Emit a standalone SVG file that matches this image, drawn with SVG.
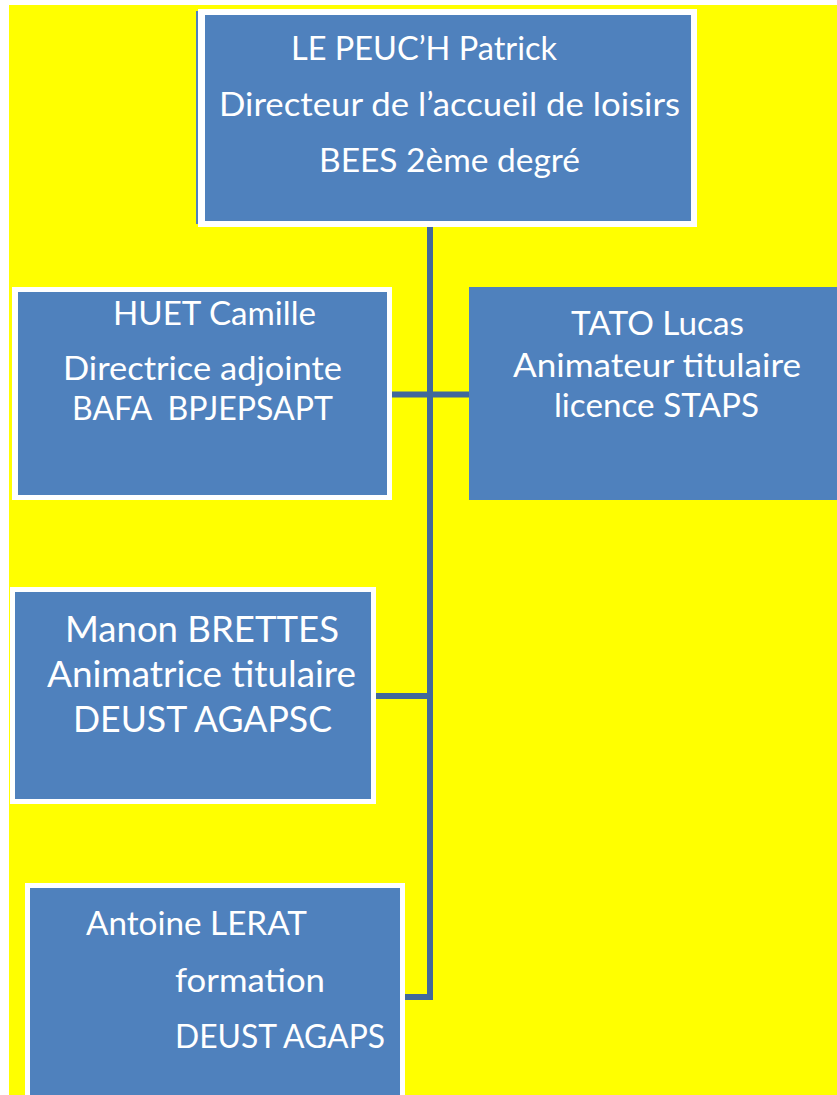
<svg xmlns="http://www.w3.org/2000/svg" width="837" height="1095" viewBox="0 0 837 1095">
<style>
.frame{fill:#FFFFFF}
.box{fill:#4F81BD}
.t{font-family:Lato,"Open Sans","Liberation Sans",sans-serif;fill:#FFFFFF;font-size:32px}
.big{font-size:37px}
.conn{stroke:#41689B;stroke-width:6;fill:none}
</style>
<rect x="0" y="0" width="837" height="1095" fill="#FFFFFF"/>
<rect x="9" y="5" width="828" height="1090" fill="#FFFF00"/>
<g id="connectors">
<path class="conn" d="M430 227 V997 H405"/>
<path class="conn" d="M392 394.5 H469"/>
<path class="conn" d="M376 696 H430"/>
</g>
<g id="director">
<rect x="196" y="11" width="3" height="213" class="box"/>
<rect x="198" y="9" width="499" height="218" class="frame"/>
<rect x="205" y="15" width="486" height="206" class="box"/>
<text class="t" x="291" y="60" textLength="266" lengthAdjust="spacingAndGlyphs">LE PEUC’H Patrick</text>
<text class="t" x="219" y="116" textLength="461" lengthAdjust="spacingAndGlyphs">Directeur de l’accueil de loisirs</text>
<text class="t" x="319" y="172" textLength="261" lengthAdjust="spacingAndGlyphs">BEES 2ème degré</text>
</g>
<g id="huet">
<rect x="12" y="287" width="380" height="213" class="frame"/>
<rect x="18" y="292" width="369" height="203" class="box"/>
<text class="t" x="113" y="325" textLength="203" lengthAdjust="spacingAndGlyphs">HUET Camille</text>
<text class="t" x="63" y="380" textLength="279" lengthAdjust="spacingAndGlyphs">Directrice adjointe</text>
<text class="t" x="72" y="420" textLength="261" lengthAdjust="spacingAndGlyphs" xml:space="preserve">BAFA  BPJEPSAPT</text>
</g>
<g id="tato">
<rect x="469" y="287" width="368" height="213" class="box"/>
<text class="t" x="571" y="335" textLength="173" lengthAdjust="spacingAndGlyphs">TATO Lucas</text>
<text class="t" x="513" y="377" textLength="288" lengthAdjust="spacingAndGlyphs">Animateur titulaire</text>
<text class="t" x="554" y="417" textLength="205" lengthAdjust="spacingAndGlyphs">licence STAPS</text>
</g>
<g id="brettes">
<rect x="10" y="587" width="366" height="217" class="frame"/>
<rect x="15" y="592" width="356" height="207" class="box"/>
<text class="t big" x="65" y="642" textLength="274" lengthAdjust="spacingAndGlyphs">Manon BRETTES</text>
<text class="t big" x="47" y="687" textLength="309" lengthAdjust="spacingAndGlyphs">Animatrice titulaire</text>
<text class="t big" x="73" y="732" textLength="259" lengthAdjust="spacingAndGlyphs">DEUST AGAPSC</text>
</g>
<g id="lerat">
<rect x="25" y="883" width="380" height="212" class="frame"/>
<rect x="30" y="888" width="370" height="207" class="box"/>
<text class="t" x="86" y="935" textLength="221" lengthAdjust="spacingAndGlyphs">Antoine LERAT</text>
<text class="t" x="175" y="992" textLength="150" lengthAdjust="spacingAndGlyphs">formation</text>
<text class="t" x="175" y="1048" textLength="210" lengthAdjust="spacingAndGlyphs">DEUST AGAPS</text>
</g>
</svg>
